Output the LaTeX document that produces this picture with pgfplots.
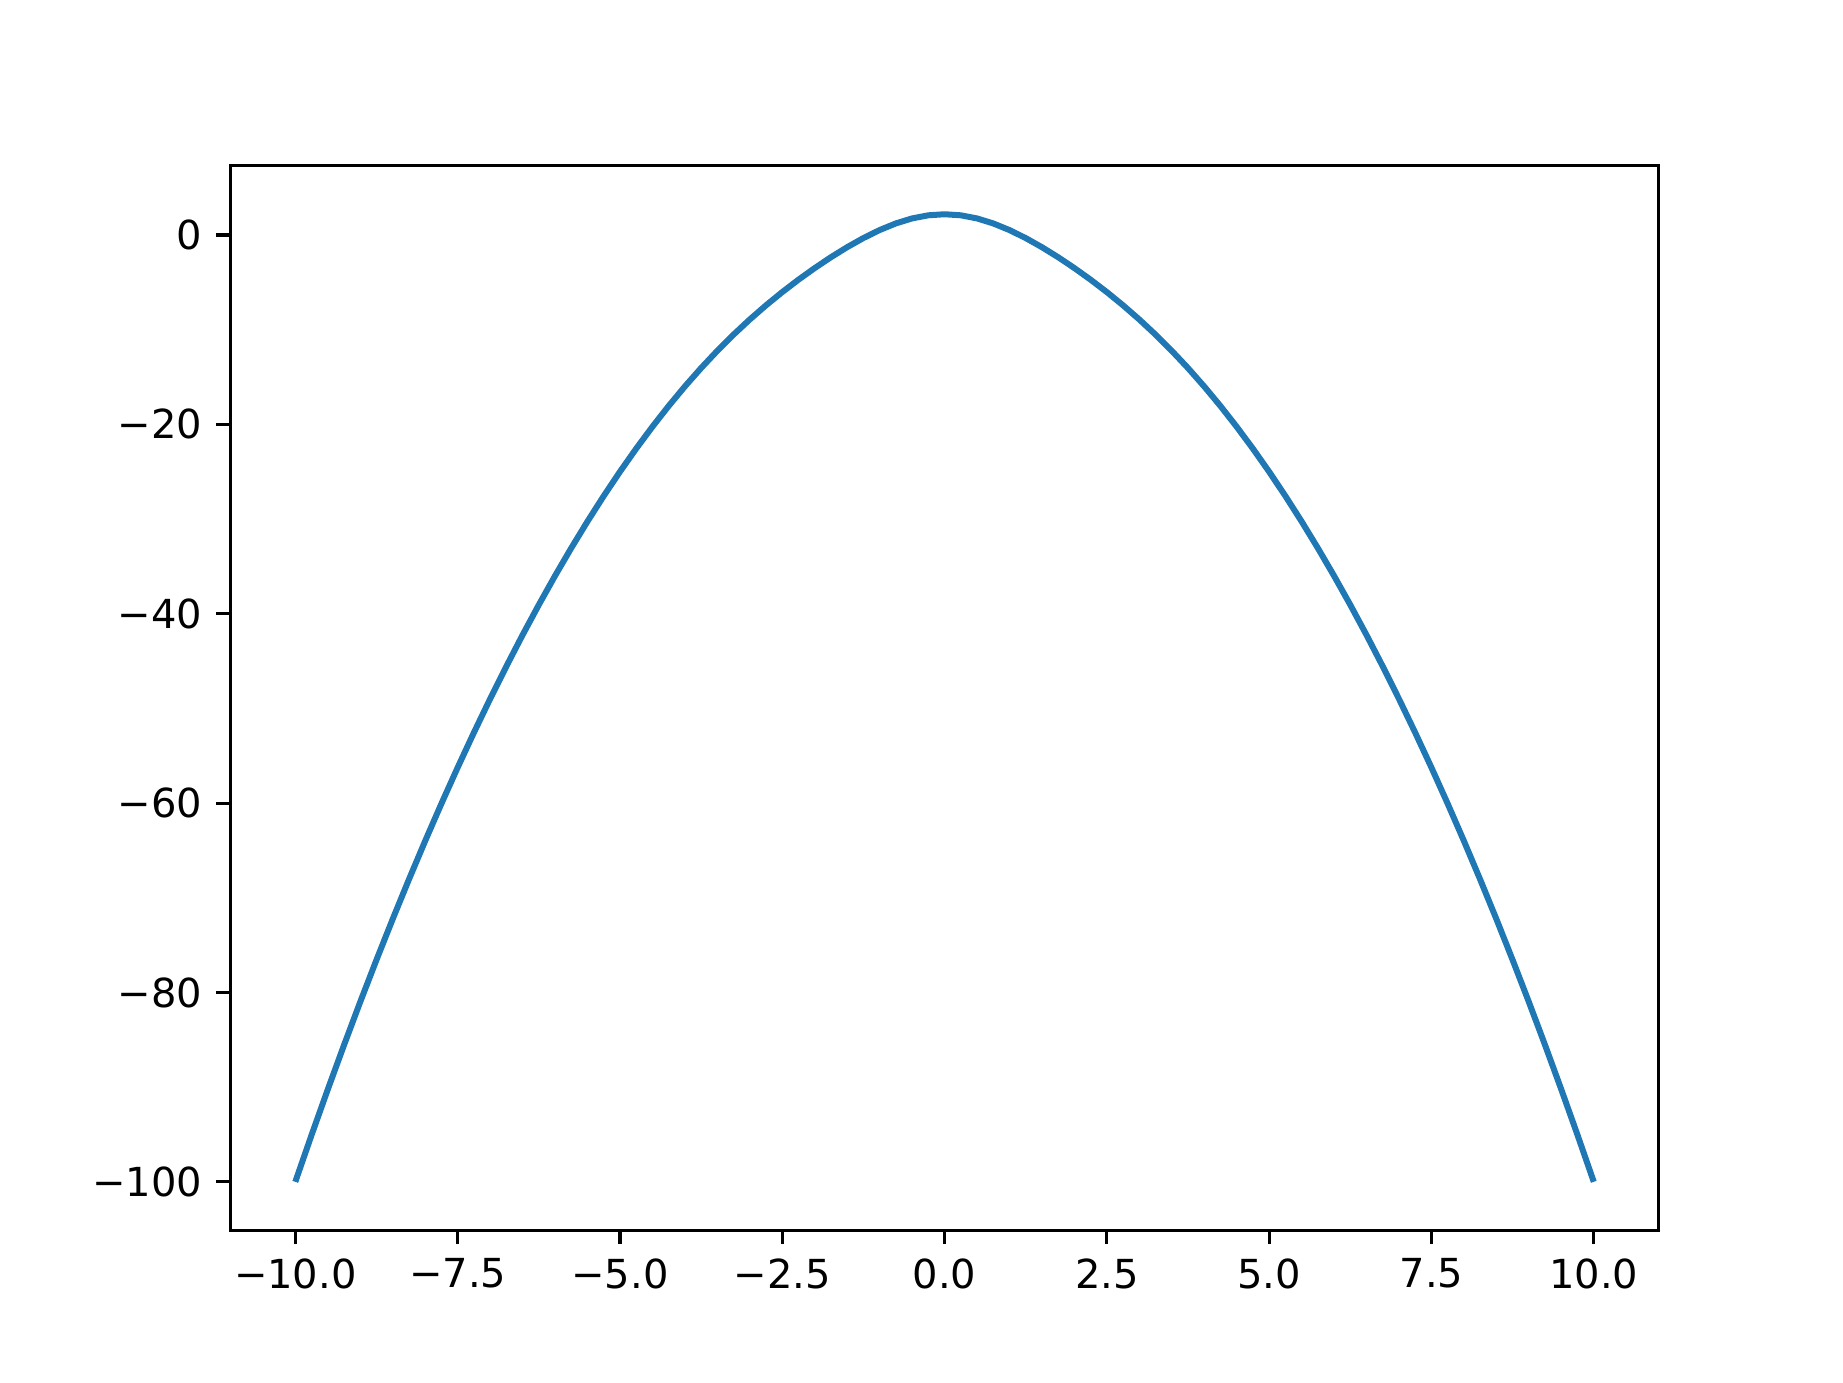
\documentclass[border=0pt]{standalone}
\usepackage{fontspec}
\setmainfont{DejaVu Sans}
\usepackage{pgfplots}
\pgfplotsset{compat=1.18}
\definecolor{tabblue}{HTML}{1F77B4}

\begin{document}
\begin{tikzpicture}
\begin{axis}[
  scale only axis,
  width=357.12pt, height=266.11pt,
  xmin=-11, xmax=11, ymin=-105.11, ymax=7.31,
  axis line style={line width=0.8pt},
  tick align=outside,
  xtick pos=lower, ytick pos=left,
  major tick length=3.5pt,
  every tick/.style={black, line width=0.8pt},
  xtick={-10,-7.5,-5,-2.5,0,2.5,5,7.5,10},
  xticklabels={−10.0,−7.5,−5.0,−2.5,0.0,2.5,5.0,7.5,10.0},
  ytick={-100,-80,-60,-40,-20,0},
  yticklabels={−100,−80,−60,−40,−20,0},
  tick label style={font=\fontsize{10}{12}\selectfont},
  /pgf/number format/assume math mode=true,
]
% curve, 0.25 apart
\addplot[tabblue, line width=1.5pt, line join=round] coordinates {
  (-10,-100) (-9.75,-95.063) (-9.5,-90.25) (-9.25,-85.563) (-9,-81)
  (-8.75,-76.563) (-8.5,-72.25) (-8.25,-68.063) (-8,-64) (-7.75,-60.063)
  (-7.5,-56.25) (-7.25,-52.563) (-7,-49) (-6.75,-45.563) (-6.5,-42.25)
  (-6.25,-39.063) (-6,-36) (-5.75,-33.063) (-5.5,-30.25) (-5.25,-27.563)
  (-5,-25) (-4.75,-22.562) (-4.5,-20.249) (-4.25,-18.059) (-4,-15.993)
  (-3.75,-14.049) (-3.5,-12.224) (-3.25,-10.515) (-3,-8.917) (-2.75,-7.422)
  (-2.5,-6.023) (-2.25,-4.713) (-2,-3.486) (-1.75,-2.340) (-1.5,-1.279)
  (-1.25,-0.316) (-1,0.529) (-0.75,1.231) (-0.5,1.759) (-0.25,2.088)
  (0,2.2)
  (0.25,2.088) (0.5,1.759) (0.75,1.231) (1,0.529) (1.25,-0.316)
  (1.5,-1.279) (1.75,-2.340) (2,-3.486) (2.25,-4.713) (2.5,-6.023)
  (2.75,-7.422) (3,-8.917) (3.25,-10.515) (3.5,-12.224) (3.75,-14.049)
  (4,-15.993) (4.25,-18.059) (4.5,-20.249) (4.75,-22.562) (5,-25)
  (5.25,-27.563) (5.5,-30.25) (5.75,-33.063) (6,-36) (6.25,-39.063)
  (6.5,-42.25) (6.75,-45.563) (7,-49) (7.25,-52.563) (7.5,-56.25)
  (7.75,-60.063) (8,-64) (8.25,-68.063) (8.5,-72.25) (8.75,-76.563)
  (9,-81) (9.25,-85.563) (9.5,-90.25) (9.75,-95.063) (10,-100)
};
\end{axis}
\path (current axis.south west) ++(-57.6pt,-38.016pt) rectangle ++(460.8pt,345.6pt);
\end{tikzpicture}
\end{document}
